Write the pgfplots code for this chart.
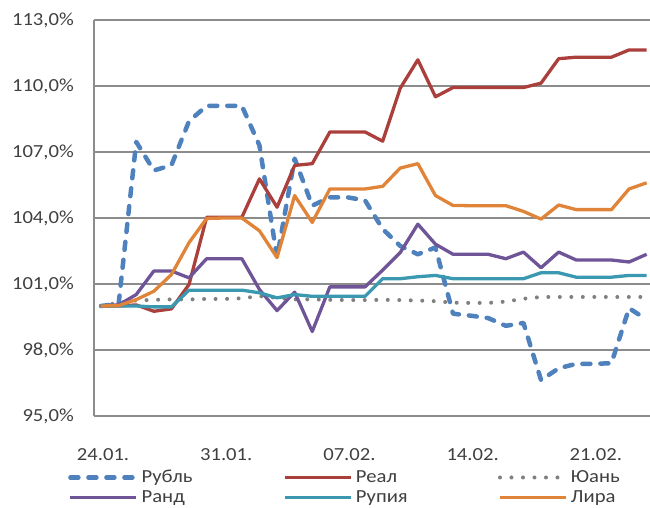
\documentclass[border=0pt]{standalone}
\usepackage{fontspec}
\setmainfont{Carlito}[FakeStretch=1.12]
\usepackage{pgfplots}
\pgfplotsset{compat=1.18}
\usepackage{pgfplotstable}

\definecolor{rubc}{HTML}{4F81BD}
\definecolor{realc}{HTML}{AB3F3C}
\definecolor{yuanc}{HTML}{808080}
\definecolor{randc}{HTML}{6F5597}
\definecolor{rupc}{HTML}{3A98B0}
\definecolor{lirac}{HTML}{E0843A}
\definecolor{gridc}{HTML}{8C8C8C}
\definecolor{txtc}{HTML}{404040}

% index, 24.01. = 100
\pgfplotstableread{
d  rub    real   yuan   rand   rup    lira
0  100.00 100.00 100.00 100.00 100.00 100.00
1  100.10 100.00 100.15 100.05 100.00 100.02
2  107.46 100.05 100.25 100.52 100.00 100.29
3  106.16 99.76  100.28 101.59 99.96  100.67
4  106.40 99.87  100.30 101.59 99.96  101.43
5  108.40 100.98 100.30 101.28 100.72 102.88
6  109.10 104.03 100.32 102.15 100.72 103.98
7  109.10 104.03 100.32 102.15 100.72 104.00
8  109.10 104.03 100.35 102.15 100.72 104.00
9  107.30 105.78 100.45 100.75 100.60 103.42
10 102.20 104.49 100.37 99.79  100.37 102.20
11 106.70 106.39 100.30 100.63 100.52 105.02
12 104.56 106.47 100.30 98.84  100.44 103.80
13 104.94 107.91 100.28 100.87 100.44 105.32
14 104.94 107.91 100.27 100.87 100.44 105.32
15 104.80 107.91 100.27 100.87 100.44 105.32
16 103.50 107.49 100.28 101.63 101.24 105.44
17 102.73 109.90 100.27 102.43 101.24 106.27
18 102.35 111.19 100.25 103.72 101.33 106.47
19 102.66 109.51 100.22 102.81 101.39 105.02
20 99.65  109.93 100.15 102.35 101.24 104.57
21 99.56  109.93 100.14 102.35 101.24 104.56
22 99.45  109.93 100.14 102.35 101.24 104.56
23 99.10  109.93 100.20 102.15 101.24 104.56
24 99.23  109.93 100.33 102.45 101.24 104.30
25 96.63  110.13 100.41 101.74 101.51 103.95
26 97.17  111.24 100.41 102.45 101.51 104.59
27 97.37  111.31 100.41 102.09 101.31 104.38
28 97.37  111.31 100.41 102.09 101.31 104.38
29 97.40  111.31 100.41 102.09 101.31 104.38
30 99.90  111.64 100.41 102.00 101.39 105.32
31 99.38  111.64 100.41 102.35 101.39 105.60
}\rates

\begin{document}
\begin{tikzpicture}
\begin{axis}[
    scale only axis,
    width=556bp, height=396bp,
    xmin=-0.4, xmax=31.19,
    ymin=95, ymax=113,
    ytick={95,98,101,104,107,110,113},
    yticklabels={{95,0\%},{98,0\%},{101,0\%},{104,0\%},{107,0\%},{110,0\%},{113,0\%}},
    xtick={0,7,14,21,28},
    xticklabels={24.01.,31.01.,07.02.,14.02.,21.02.},
    axis x line*=bottom, axis y line*=left,
    axis line style={draw=gridc, line width=1.2bp, -},
    ymajorgrids,
    major grid style={draw=gridc, line width=1.2bp},
    major tick length=0pt, tick style={draw=none},
    every tick label/.append style={font=\fontsize{18.5}{22}\selectfont, text=txtc, inner sep=0pt},
    yticklabel style={anchor=east, xshift=-20bp},
    xticklabel style={anchor=base, yshift=-44bp, xshift=2bp},
    no marks,
    every axis plot/.append style={line join=round},
    legend columns=3,
    legend cell align=left,
    legend image code/.code={\draw[#1] (0bp,0bp) -- (66bp,0bp);},
    legend style={at={(-0.0468,-0.137)}, anchor=north west,
        draw=none, fill=none, inner sep=0pt, row sep=6.5bp,
        font=\fontsize{18.5}{22}\selectfont, text=txtc,
        nodes={inner sep=0pt, text width=130bp, align=left},
        /tikz/every odd column/.append style={column sep=3bp},
        /tikz/every even column/.append style={column sep=12bp}},
]
\addplot[draw=rubc, line width=4.5bp, dash pattern=on 8bp off 10bp, line cap=round] table[x=d, y=rub] {\rates};
\addplot[draw=realc, line width=3.3bp] table[x=d, y=real] {\rates};
\addplot[draw=yuanc, line width=4bp, dash pattern=on 0bp off 11.5bp, line cap=round] table[x=d, y=yuan] {\rates};
\addplot[draw=randc, line width=3.3bp] table[x=d, y=rand] {\rates};
\addplot[draw=rupc, line width=3.3bp] table[x=d, y=rup] {\rates};
\addplot[draw=lirac, line width=3.3bp] table[x=d, y=lira] {\rates};
\legend{Рубль,Реал,Юань,Ранд,Рупия,Лира}
\end{axis}
\pgfresetboundingbox
\path[use as bounding box] (-94bp,-92bp) rectangle (556bp,416bp);
\end{tikzpicture}
\end{document}
